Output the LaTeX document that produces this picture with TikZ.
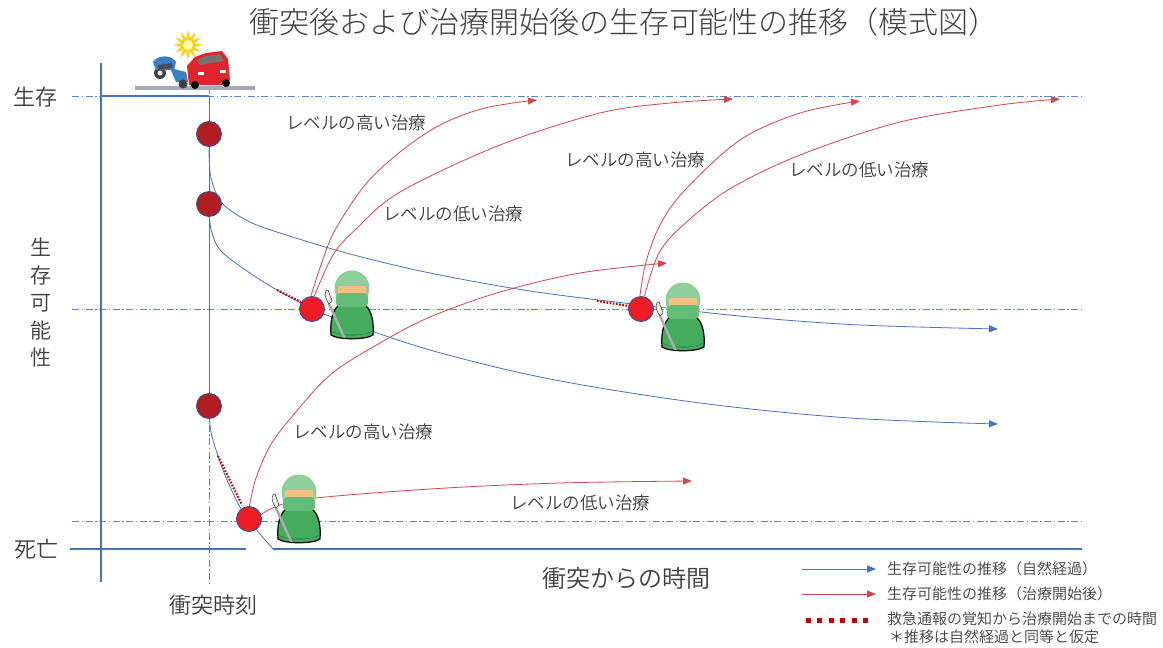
\documentclass[tikz,border=0pt]{standalone}
\usepackage{fontspec}
\setmainfont{Noto Sans CJK JP DemiLight}
\newfontfamily\titlefont{Noto Sans CJK JP Light}
\usetikzlibrary{arrows.meta,shapes.geometric}
\definecolor{axisblue}{HTML}{4472C4}
\definecolor{gridblue}{HTML}{5B87D0}
\definecolor{curvered}{HTML}{D8434C}
\definecolor{dotred}{HTML}{C00000}
\definecolor{darkdot}{HTML}{B01E24}
\definecolor{brightdot}{HTML}{EE1C25}
\definecolor{rimblue}{HTML}{2F5597}
\definecolor{txt}{HTML}{404040}
\definecolor{capgreen}{HTML}{8ED09C}
\definecolor{maskgreen}{HTML}{62BD79}
\definecolor{gowngreen}{HTML}{43AD5C}
\definecolor{skin}{HTML}{F3C27E}
\definecolor{carred}{HTML}{E0262C}
\definecolor{bikeblue}{HTML}{3A7FC4}
\definecolor{road}{HTML}{A9A8B8}
\definecolor{flash}{HTML}{F7D21E}

\tikzset{
  surgeon/.pic={
    % gown
    \draw[black, line width=1.2, fill=gowngreen]
      (-21,47) .. controls (-23,21) and (-12,12) .. (0,12)
      .. controls (12,12) and (23,21) .. (21,47)
      .. controls (14,52) and (-14,52) .. cycle;
    \fill[black!35!gowngreen] (-20,43) .. controls (-10,49) and (10,49) .. (20,43)
      .. controls (19,48) and (-19,48) .. cycle;
    % cap, face, mask
    \fill[capgreen] (0,0) circle (17.5);
    \fill[skin, rounded corners=2] (-14,-2) rectangle (14,9);
    \fill[maskgreen, rounded corners=4] (-16,5) rectangle (16,19);
    % scalpel
    \draw[gray!65, line width=2.6, line cap=round] (-23,16) -- (-8,49);
    \draw[gray!60!black, line width=0.6, fill=gray!15]
      (-23,16) .. controls (-29,8) and (-27,1) .. (-24,2) -- (-20,13) -- cycle;
  }
}

\begin{document}
\begin{tikzpicture}[x=1pt,y=-1pt,
  grid/.style={gridblue, line width=0.9, dash pattern=on 7pt off 2.5pt on 1.5pt off 2.5pt},
  axis/.style={axisblue, line width=1.3},
  natural/.style={axisblue, line width=0.8},
  treat/.style={curvered, line width=0.8},
  tip/.style={-{Triangle[length=9pt,width=7pt]}},
  waiting/.style={dotred, line width=2.2, dash pattern=on 1.6pt off 1.6pt},
  event/.style={circle, draw=rimblue, line width=0.9, fill=darkdot, minimum size=25pt, inner sep=0pt},
  start/.style={circle, draw=rimblue, line width=0.9, fill=brightdot, minimum size=25pt, inner sep=0pt},
  lbl/.style={text=txt, font=\fontsize{17.5}{20}\selectfont, inner sep=0pt},
  axlbl/.style={text=txt, font=\fontsize{22}{24}\selectfont, inner sep=0pt},
  legtxt/.style={text=txt, font=\fontsize{15}{17}\selectfont, anchor=west, inner sep=0pt},
]
\useasboundingbox (0,0) rectangle (1163,648);
\fill[white] (0,0) rectangle (1163,648);

% title
\node[text=txt, font=\titlefont\fontsize{30}{33}\selectfont, inner sep=0pt] (title) at (624,22)
  {衝突後および治療開始後の生存可能性の推移（模式図）};

% reference lines
\draw[grid] (72,96) -- (1082,96);
\draw[grid] (72,309) -- (1082,309);
\draw[grid] (72,521) -- (1082,521);
\draw[grid] (209,60) -- (209,584);

% axes
\draw[axis] (101,63) -- (101,582);
\draw[axis] (70,549) -- (246,549);
\draw[axisblue, line width=2.2] (101,96) -- (209,96);
\draw[natural] (209,96) -- (209,420);

% axis labels
\node[axlbl] (alive) at (35,97) {生存};
\node[axlbl] (dead) at (36,549) {死亡};
\node[axlbl, align=center, font=\fontsize{21}{27.5}\selectfont] (yaxis) at (41,303)
  {生\\存\\可\\能\\性};
\node[axlbl] (t0) at (213,605) {衝突時刻};
\node[axlbl, font=\fontsize{24}{26}\selectfont] (xaxis) at (626,578) {衝突からの時間};

% crash icon
\draw[road, line width=3.2] (135,88) -- (255,88);
\node[star, star points=12, star point ratio=2.1, fill=flash, minimum size=30pt, inner sep=0pt] (burst) at (188,45) {};
\fill[white!70!yellow] (burst) circle (5);
\fill[black!75] (160,73) circle (6);
\fill[white!80!gray] (160,73) circle (2.5);
\fill[bikeblue] (153,62) .. controls (158,54) and (172,55) .. (176,62) -- (174,70) -- (156,70) -- cycle;
\fill[black!70] (158,65) -- (172,63) -- (172,68) -- (158,70) -- cycle;
\fill[bikeblue] (170,68) -- (186,72) -- (188,82) -- (176,82) -- cycle;
\fill[black!75] (183,84) circle (4.5);
\fill[carred] (189,85) -- (187,66) -- (195,57) -- (206,53) -- (222,51) -- (228,59) -- (230,80) -- (224,85) -- cycle;
\fill[black!55] (197,60) -- (206,56) -- (220,54) -- (224,61) -- (200,65) -- cycle;
\fill[white] (198,72) rectangle (204,75);
\fill[white] (220,70) rectangle (226,73);
\fill[black] (195,85) circle (4);
\fill[black] (226,83) circle (4);

% natural course curves
\draw[natural, tip] plot[smooth, tension=0.55] coordinates {
  (209,150) (211,178) (222,203) (248,221) (280,233) (350,254) (430,273)
  (530,291) (641,305) (750,317) (860,325) (998,329)};
\draw[natural, tip] plot[smooth, tension=0.55] coordinates {
  (209,215) (212,233) (221,251) (247,271) (277,290) (313,309)
  (335,318) (430,350) (550,379) (700,403) (850,418) (998,424)};
\draw[natural] plot[smooth, tension=0.55] coordinates {
  (209,410) (211,432) (218,456) (227,480) (240,507) (249,520) (260,534) (273,549)};
\draw[axis] (273,549) -- (1082,549);

% time until treatment starts
\draw[waiting] (277,290) -- (301,302);
\draw[waiting] (597,301) -- (629,306);
\draw[waiting] (218,456) -- (242,505);

% event markers
\node[event] (e1) at (209,134) {};
\node[event] (e2) at (209,204) {};
\node[event] (e3) at (209,406) {};

% treatment start points
\node[start] (s1) at (312,309) {};
\node[start] (s2) at (641,309) {};
\node[start] (s3) at (249,519) {};

% treatment curves
\draw[treat, tip] plot[smooth, tension=0.55] coordinates {
  (s1.95) (322,262) (335,230) (365,185) (400,152) (440,125) (485,108) (537,100)};
\draw[treat, tip] plot[smooth, tension=0.55] coordinates {
  (s1.80) (333,255) (355,230) (400,192) (500,145) (600,113) (670,103) (733,99)};
\draw[treat, tip] plot[smooth, tension=0.55] coordinates {
  (s2.95) (646,262) (660,225) (685,190) (740,140) (800,113) (860,101)};
\draw[treat, tip] plot[smooth, tension=0.55] coordinates {
  (s2.75) (658,255) (680,228) (728,190) (800,155) (900,122) (1000,105) (1060,99)};
\draw[treat, tip] plot[smooth, tension=0.55] coordinates {
  (s3.88) (256,478) (270,446) (290,419) (330,375) (380,343) (430,317) (500,292) (580,273) (667,263)};
\draw[treat, tip] plot[smooth, tension=0.55] coordinates {
  (s3.20) (300,500) (430,489) (560,483) (692,481)};

% surgeons
\pic at (352,288) {surgeon};
\pic at (683,300) {surgeon};
\pic at (299,492) {surgeon};

% curve labels
\node[lbl] (h1) at (356,123) {レベルの高い治療};
\node[lbl] (l1) at (453,214) {レベルの低い治療};
\node[lbl] (h2) at (635,160) {レベルの高い治療};
\node[lbl] (l2) at (859,170) {レベルの低い治療};
\node[lbl] (h3) at (363,432) {レベルの高い治療};
\node[lbl] (l3) at (580,503) {レベルの低い治療};

% legend
\coordinate (la1) at (802,569);
\coordinate (lb1) at (876,569);
\coordinate (la2) at (802,594);
\coordinate (lb2) at (876,594);
\coordinate (la3) at (806,620);
\coordinate (lb3) at (868,620);
\draw[natural, tip] (la1) -- (lb1);
\draw[treat, tip] (la2) -- (lb2);
\draw[dotred, line width=5, dash pattern=on 5pt off 6.4pt] (la3) -- (lb3);
\node[legtxt] (lt1) at (887,569) {生存可能性の推移（自然経過）};
\node[legtxt] (lt2) at (887,594) {生存可能性の推移（治療開始後）};
\node[legtxt] (lt3) at (887,619) {救急通報の覚知から治療開始までの時間};
\node[legtxt] (lt4) at (889,637) {＊推移は自然経過と同等と仮定};
\end{tikzpicture}
\end{document}
